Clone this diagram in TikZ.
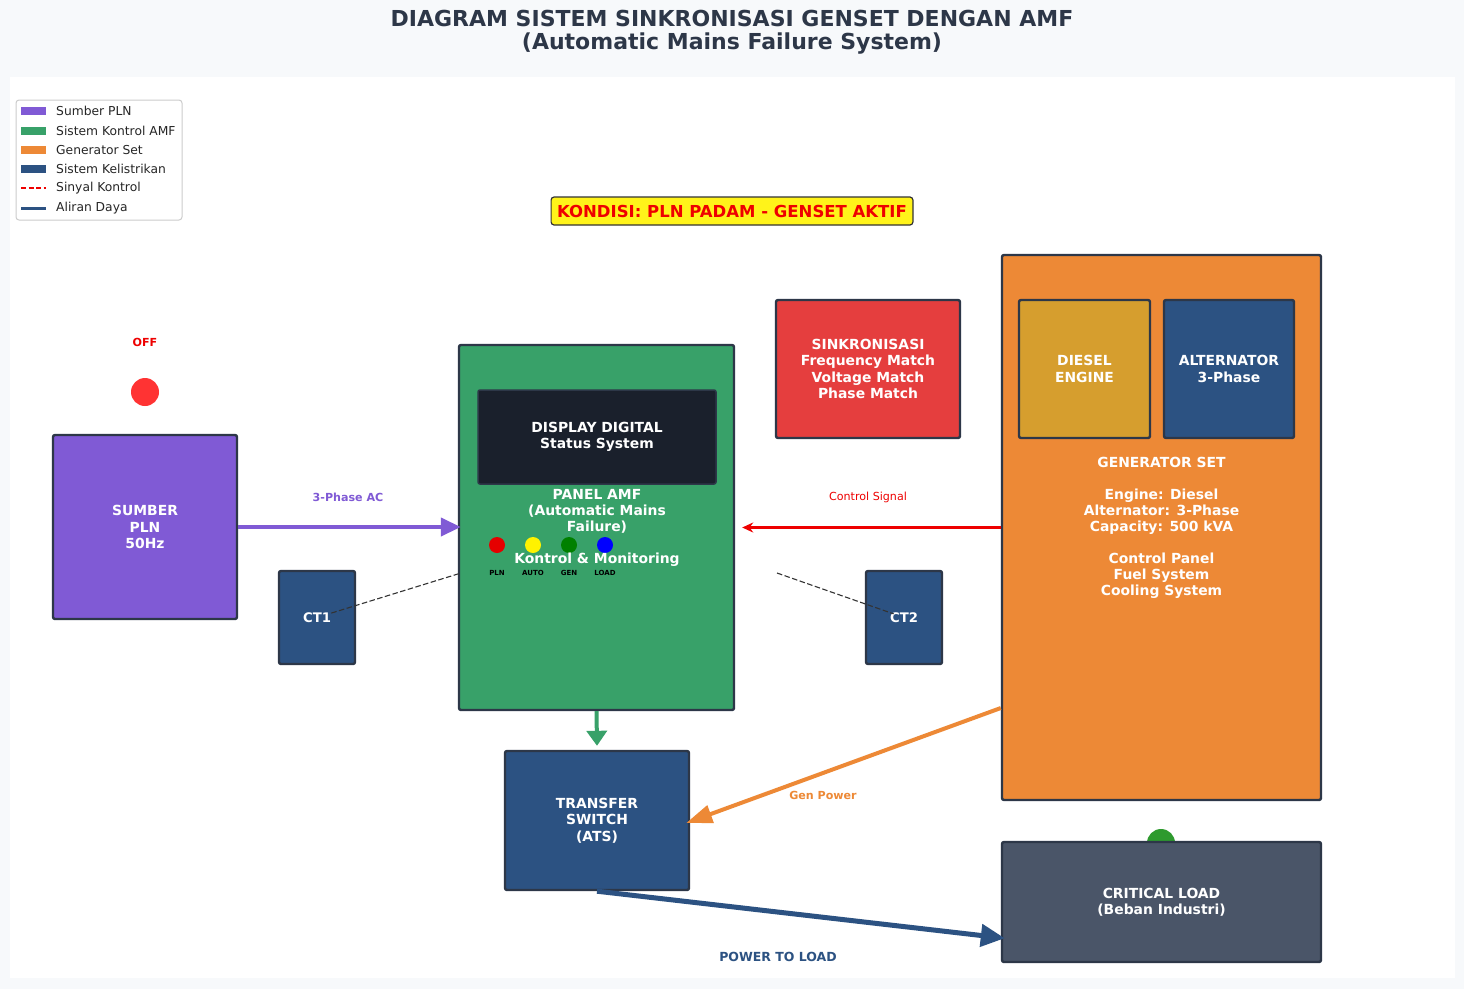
\documentclass[tikz,border=0pt]{standalone}
\usepackage{fontspec}
\setmainfont{DejaVu Sans}
\usetikzlibrary{arrows.meta}
\definecolor{bgcol}{HTML}{F7F9FB}
\definecolor{titlecol}{HTML}{2D3748}
\definecolor{edgecol}{HTML}{2D3748}
\definecolor{plncol}{HTML}{805AD5}
\definecolor{amfcol}{HTML}{38A169}
\definecolor{gencol}{HTML}{ED8936}
\definecolor{elecol}{HTML}{2C5282}
\definecolor{synccol}{HTML}{E53E3E}
\definecolor{dieselcol}{HTML}{D69E2E}
\definecolor{dispcol}{HTML}{1A202C}
\definecolor{loadcol}{HTML}{4A5568}
\definecolor{offcol}{HTML}{FF3333}
\definecolor{oncol}{HTML}{2E9A2E}
\definecolor{legcol}{HTML}{CCCCCC}
\definecolor{sigcol}{HTML}{EE0000}

\begin{document}
\begin{tikzpicture}[x=1pt, y=-1pt,
    unit/.style={draw=edgecol, line width=2.4pt, rounded corners=2pt, inner sep=0pt, text=white, align=center, font=\bfseries\fontsize{13.9}{16.5}\selectfont},
    lbl/.style={inner sep=0pt, font=\bfseries\fontsize{11.1}{13}\selectfont},
    led/.style={circle, inner sep=0pt, minimum size=16pt},
    tag/.style={inner sep=0pt, font=\bfseries\fontsize{7}{8}\selectfont},
    patch/.style={minimum width=25pt, minimum height=8.5pt, inner sep=0pt},
    entry/.style={anchor=west, inner sep=0pt, text=black!85, font=\fontsize{12.3}{14}\selectfont}]

    \fill[bgcol] (0,0) rectangle (1464,989);
    \fill[white] (10,77) rectangle (1455,978);

    \node[inner sep=0pt, align=center, text=titlecol, font=\bfseries\fontsize{22}{22.5}\selectfont] (title) at (732,32)
        {DIAGRAM SISTEM SINKRONISASI GENSET DENGAN AMF\\(Automatic Mains Failure System)};

    \draw[legcol, fill=white, rounded corners=3pt, line width=1pt] (16,100) rectangle (182,220);
    \node[patch, fill=plncol] (lg1) at (33.5,111) {};
    \node[entry] at (56,111) {Sumber PLN};
    \node[patch, fill=amfcol] (lg2) at (33.5,131) {};
    \node[entry] at (56,131) {Sistem Kontrol AMF};
    \node[patch, fill=gencol] (lg3) at (33.5,150) {};
    \node[entry] at (56,150) {Generator Set};
    \node[patch, fill=elecol] (lg4) at (33.5,169) {};
    \node[entry] at (56,169) {Sistem Kelistrikan};
    \draw[sigcol, line width=2pt, dash pattern=on 5pt off 2.5pt] (21,188) -- (46,188);
    \node[entry] at (56,188) {Sinyal Kontrol};
    \draw[elecol, line width=3pt] (21,208) -- (46,208);
    \node[entry] at (56,208) {Aliran Daya};

    \node[draw=black!80, fill=yellow!90!white, line width=1.2pt, rounded corners=3pt, inner xsep=6pt, minimum height=28pt, text=sigcol, font=\bfseries\fontsize{16.5}{18}\selectfont] (state) at (732,211) {KONDISI: PLN PADAM - GENSET AKTIF};

    \node[lbl, text=sigcol] (off) at (145,342) {OFF};
    \node[led, fill=offcol, minimum size=28pt] (offled) at (145,392) {};
    \node[unit, fill=plncol, minimum width=184pt, minimum height=184pt] (pln) at (145,527) {SUMBER\\PLN\\50Hz};
    \node[unit, fill=elecol, minimum width=76pt, minimum height=93pt, font=\bfseries\fontsize{13.2}{15}\selectfont] (ct1) at (317,617.5) {CT1};

    \node[unit, fill=amfcol, minimum width=275pt, minimum height=365pt] (amf) at (596.5,527.5) {};
    \node[unit, fill=dispcol, line width=1.5pt, minimum width=238pt, minimum height=94pt, font=\bfseries\fontsize{13.9}{16}\selectfont] (disp) at (597,437) {DISPLAY DIGITAL\\Status System};
    \node[inner sep=0pt, align=center, text=white, font=\bfseries\fontsize{13.9}{16}\selectfont] (amftext) at (597,511) {PANEL AMF\\(Automatic Mains\\Failure)};
    \node[led, fill=red!90!black] (led1) at (497,545) {};
    \node[led, fill=yellow] (led2) at (533,545) {};
    \node[led, fill=green!50!black] (led3) at (569,545) {};
    \node[led, fill=blue] (led4) at (605,545) {};
    \node[inner sep=0pt, text=white, font=\bfseries\fontsize{13.9}{16}\selectfont] (mon) at (597,560) {Kontrol \& Monitoring};
    \node[tag] at (497,573) {PLN};
    \node[tag] at (533,573) {AUTO};
    \node[tag] at (569,573) {GEN};
    \node[tag] at (605,573) {LOAD};

    \node[unit, fill=synccol, minimum width=184pt, minimum height=138pt] (sync) at (868,369) {SINKRONISASI\\Frequency Match\\Voltage Match\\Phase Match};

    \node[unit, fill=gencol, minimum width=319pt, minimum height=545pt, font=\bfseries\fontsize{13.9}{16}\selectfont] (gen) at (1161.5,527.5)
        {GENERATOR SET\\[16pt]Engine: Diesel\\Alternator: 3-Phase\\Capacity: 500 kVA\\[16pt]Control Panel\\Fuel System\\Cooling System};
    \node[unit, fill=dieselcol, minimum width=131pt, minimum height=138pt] (diesel) at (1084.5,369) {DIESEL\\ENGINE};
    \node[unit, fill=elecol, minimum width=130pt, minimum height=138pt] (alt) at (1229,369) {ALTERNATOR\\3-Phase};

    \node[unit, fill=elecol, minimum width=76pt, minimum height=93pt, font=\bfseries\fontsize{13.2}{15}\selectfont] (ct2) at (904,617.5) {CT2};

    \node[unit, fill=elecol, minimum width=184pt, minimum height=139pt] (ats) at (597,820.5) {TRANSFER\\SWITCH\\(ATS)};

    \node[led, fill=oncol, minimum size=28pt] (onled) at (1161,843) {};
    \node[unit, fill=loadcol, minimum width=319pt, minimum height=120pt] (load) at (1161.5,902) {CRITICAL LOAD\\(Beban Industri)};

    \coordinate (ctin1) at (461,573);
    \coordinate (ctin2) at (777,573);
    \draw[black!80, line width=1.1pt, dash pattern=on 5.5pt off 2.5pt, shorten <=15pt] (ct1.center) -- (ctin1);
    \draw[black!80, line width=1.1pt, dash pattern=on 5.5pt off 2.5pt, shorten >=11pt] (ctin2) -- (ct2.center);

    \draw[plncol, line width=4pt, -{Triangle[length=20pt, width=18pt]}] (pln.east) -- ([xshift=3pt]amf.west |- pln.east);
    \node[lbl, text=plncol] (aclbl) at (348,497) {3-Phase AC};

    \draw[sigcol, line width=2.5pt, -{Stealth[length=11pt, width=10pt]}] (gen.west) -- ([xshift=7pt]amf.east);
    \node[inner sep=0pt, text=sigcol, font=\fontsize{11.1}{13}\selectfont] (siglbl) at (868,497) {Control Signal};

    \draw[amfcol, line width=4pt, -{Triangle[length=15pt, width=20pt]}] (amf.south) -- ([yshift=4pt]ats.north);

    \draw[gencol, line width=4pt, -{Triangle[length=26pt, width=18pt]}] ([yshift=-180.5pt]gen.west) -- ([xshift=-4pt, yshift=-2.5pt]ats.east);
    \node[lbl, text=gencol] (genlbl) at (823,795) {Gen Power};

    \draw[elecol, line width=5pt, -{Triangle[length=24pt, width=22pt]}] (ats.south) -- ([xshift=4pt, yshift=25pt]load.south west);
    \node[inner sep=0pt, text=elecol, font=\bfseries\fontsize{12.5}{14}\selectfont] (pwrlbl) at (778,957) {POWER TO LOAD};

\end{tikzpicture}
\end{document}
